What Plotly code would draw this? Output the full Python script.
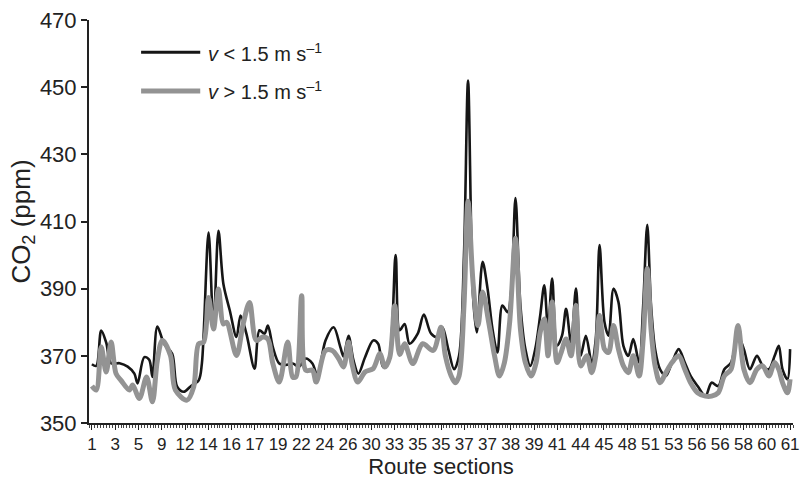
import plotly.graph_objects as go

# x = sample index along the route (241 samples, label every 8 samples)
tick_labels = ["1", "3", "5", "9", "12", "14", "16", "17", "19", "22", "24", "26", "30", "33", "35",
               "35", "37", "37", "38", "39", "41", "44", "45", "48", "51", "53", "56", "56", "58", "60", "61"]
tick_step = 8

slow_x = [0, 1.5, 3.2, 4.9, 6.6, 9.5, 12.3, 14.6, 15.7, 18.0, 19.7, 20.8, 22.5, 24.8, 27.6, 29.3,
          31.6, 33.8, 36.7, 37.8, 40.1, 41.8, 43.5, 45.2, 47.4, 49.7, 51.1, 53.1, 55.9, 57.6, 59.3,
          60.5, 62.2, 64.4, 66.7, 69.0, 71.2, 73.5, 75.8, 77.5, 80.3, 83.1, 85.4, 86.5, 88.2, 89.9,
          91.6, 93.9, 96.7, 98.4, 100.1, 101.8, 104.4, 105.8, 107.5, 109.2, 112.0, 114.1, 116.6,
          118.8, 120.5, 122.5, 124.5, 126.2, 127.9, 129.3, 131.0, 132.3, 134.3, 136.0, 137.7, 139.4,
          141.1, 142.9, 144.2, 145.6, 147.3, 149.0, 150.7, 152.4, 154.1, 155.5, 156.8, 158.2, 159.9,
          161.6, 163.0, 164.7, 166.4, 168.0, 169.8, 171.8, 173.2, 174.5, 176.2, 177.6, 179.3, 181.0,
          182.7, 184.4, 186.1, 188.1, 189.5, 190.9, 192.2, 193.6, 195.3, 197.3, 199.4, 201.7, 203.8,
          205.8, 208.2, 210.9, 213.0, 215.3, 217.4, 219.7, 222.1, 224.1, 226.2, 228.6, 230.6, 232.7,
          234.7, 236.1, 237.4, 239.1, 240]
slow_y = [367.5, 367, 377.5, 374, 367.8, 367.8, 366.8, 364.7, 361.8, 369.6, 368.8, 363.7, 378.7,
          373.6, 370.6, 360.8, 359.3, 360.8, 362.7, 367.7, 406.7, 378.5, 407.2, 391.4, 383.5, 375.6,
          382, 376.6, 366.2, 377.6, 376.6, 379, 372.6, 367.7, 367.3, 367.7, 366.8, 369.2, 367.7,
          364.2, 374.6, 378.5, 372.6, 369.8, 376, 368.7, 364.7, 369.6, 374.6, 373.6, 366.7, 367.7,
          400, 377.6, 379.5, 373.6, 376.6, 382.3, 376.6, 375.6, 378.5, 372, 366, 370, 400, 452,
          388, 377, 398, 390, 378, 371, 385, 383, 390, 417, 385, 372, 367, 372, 382, 391, 378, 393,
          373, 376, 384, 374, 390, 370, 376, 368, 375, 403, 380, 376, 390, 386, 373, 370, 375, 368,
          385, 409, 385, 372, 366, 364, 368, 372, 368, 364, 361, 358, 362, 361, 366, 368, 376, 372,
          366, 370, 367, 366, 370, 373, 366, 363, 372]

fast_x = [0, 1.5, 3.2, 4.9, 6.6, 8.3, 10.0, 12.9, 14.0, 16.3, 18.8, 20.8, 22.5, 24.2, 27.0, 28.7,
          32.7, 35.0, 36.7, 38.4, 40.1, 41.8, 43.5, 45.2, 46.3, 49.7, 52.0, 54.2, 56.5, 58.8, 60.5,
          62.2, 64.4, 67.3, 69.0, 70.1, 72.1, 73.5, 75.8, 77.1, 80.3, 82.6, 84.8, 86.5, 88.2, 89.4,
          91.4, 93.9, 96.7, 99.0, 100.7, 102.4, 104.1, 105.8, 107.5, 110.3, 113.7, 117.3, 120.0,
          121.5, 123.5, 124.9, 126.2, 127.9, 129.3, 131.0, 132.7, 134.3, 136.4, 138.4, 140.1, 141.8,
          143.6, 145.6, 147.3, 149.0, 151.0, 152.7, 154.1, 155.5, 156.8, 158.2, 159.9, 161.3, 163.0,
          164.7, 166.4, 168.0, 170.1, 171.8, 173.2, 174.5, 176.2, 177.6, 179.3, 181.0, 182.7, 184.4,
          186.1, 188.1, 189.5, 190.9, 192.2, 193.6, 195.3, 197.3, 199.4, 201.7, 203.8, 205.8, 208.2,
          210.9, 213.0, 215.3, 217.4, 219.7, 222.1, 224.1, 226.2, 228.6, 230.6, 232.7, 234.7, 236.1,
          237.4, 239.1, 240]
fast_y = [361, 359.8, 372.6, 365.2, 374.1, 364.7, 362.7, 359.8, 361.3, 357.3, 363.7, 356.3, 368.7,
          374.6, 370.1, 359.8, 356.8, 360.8, 373.6, 374.1, 387.4, 378, 389.9, 379.5, 380, 370.1,
          379.5, 385.9, 374.6, 375.6, 375, 367.7, 362.2, 374.1, 363.7, 363.7, 387.9, 365.7, 365.7,
          362.2, 371.6, 371.6, 369.2, 366.7, 374.1, 367.7, 362.2, 365.2, 366.2, 370.6, 366.7, 369.6,
          384.9, 370.4, 373.6, 367.7, 373.6, 371.6, 378.5, 370, 364, 362, 364, 385, 416, 392, 379,
          389, 380, 370, 364, 368, 380, 405, 378, 368, 364, 368, 377, 381, 370, 386, 368, 371, 375,
          370, 385, 367, 370, 365, 370, 382, 372, 371, 379, 372, 367, 365, 370, 364, 375, 396, 378,
          367, 362, 365, 368, 370, 366, 362, 359, 358, 358, 359, 364, 366, 379, 366, 362, 366, 367,
          364, 368, 366, 362, 359, 363]

legend_names = ["<i>v</i> < 1.5 m s<sup>\u20131</sup>", "<i>v</i> > 1.5 m s<sup>\u20131</sup>"]
black = "#161616"
grey = "#939393"
FONT = "Liberation Sans, Arial, Helvetica, sans-serif"

fig = go.Figure()
fig.add_trace(go.Scatter(x=slow_x, y=slow_y, mode="lines", name=legend_names[0],
                         line=dict(color=black, width=2.6, shape="spline", smoothing=0.9),
                         showlegend=False))
fig.add_trace(go.Scatter(x=fast_x, y=fast_y, mode="lines", name=legend_names[1],
                         line=dict(color=grey, width=5, shape="spline", smoothing=0.9),
                         showlegend=False))

# manual legend (long keys as in the reference)
for yk, col, w, txt in [(0.92, black, 3.2, legend_names[0]), (0.824, grey, 5, legend_names[1])]:
    fig.add_shape(type="line", xref="paper", yref="paper", x0=0.074, x1=0.158, y0=yk, y1=yk,
                  line=dict(color=col, width=w))
    fig.add_annotation(xref="paper", yref="paper", x=0.166, y=yk, text=txt, showarrow=False,
                       xanchor="left", yanchor="middle", font=dict(size=20, color="#222", family=FONT))

tickvals = [i * tick_step for i in range(len(tick_labels))]

fig.update_layout(
    width=808, height=481,
    margin=dict(l=89, r=8, t=18, b=58),
    plot_bgcolor="white", paper_bgcolor="white",
    font=dict(family=FONT, color="#222"),
    xaxis=dict(
        range=[-1, 241], tickmode="array", tickvals=tickvals, ticktext=tick_labels,
        ticks="outside", ticklen=5, tickwidth=1, tickcolor="#222",
        minor=dict(ticks="outside", ticklen=3, tickwidth=1, dtick=1, tick0=0, tickcolor="#444"),
        showline=True, linecolor="#222", linewidth=2, showgrid=False, zeroline=False,
        tickfont=dict(size=17), tickangle=0,
        title=dict(text="Route sections", font=dict(size=22), standoff=2),
    ),
    yaxis=dict(
        range=[350, 470], tickmode="linear", tick0=350, dtick=20,
        ticks="outside", ticklen=6, tickwidth=1.5, tickcolor="#222",
        showline=True, linecolor="#222", linewidth=2, showgrid=False, zeroline=False,
        tickfont=dict(size=22),
        title=dict(text="CO<sub>2</sub> (ppm)", font=dict(size=26), standoff=2),
    ),
)

fig.write_html("out.html")
